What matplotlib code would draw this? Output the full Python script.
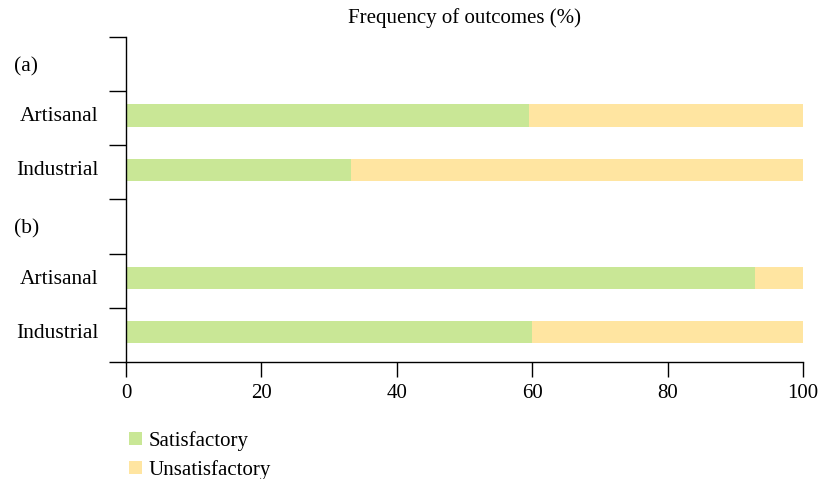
"""Stacked horizontal bars: frequency of satisfactory vs unsatisfactory outcomes."""

import matplotlib

matplotlib.use("Agg")
import matplotlib.pyplot as plt
import matplotlib.transforms as mtransforms
from matplotlib.patches import Patch

# Row labels top to bottom; group headers carry no bar.
rows = ["(a)", "Artisanal", "Industrial", "(b)", "Artisanal", "Industrial"]
satisfactory = [None, 59.6, 33.3, None, 92.9, 60.0]
unsatisfactory = [None, 40.4, 66.7, None, 7.1, 40.0]
xticks = [0, 20, 40, 60, 80, 100]

GREEN = "#c9e796"
YELLOW = "#ffe5a1"

plt.rcParams["font.family"] = ["Liberation Serif", "DejaVu Serif"]

fig = plt.figure(figsize=(8.21, 4.79), dpi=100)
ax = fig.add_axes([0.1535, 0.2443, 0.8245, 0.6785])

for i, (s, u) in enumerate(zip(satisfactory, unsatisfactory)):
    if s is None:
        continue
    ax.barh(i - 0.05, s, height=0.41, color=GREEN, lw=0)
    ax.barh(i - 0.05, u, left=s, height=0.41, color=YELLOW, lw=0)

ax.set_xlim(0, 100)
ax.set_ylim(len(rows) - 0.5, -0.5)

# Ticks sit on the row boundaries, labels in between.
ax.set_yticks([i - 0.5 for i in range(len(rows) + 1)])
ax.set_yticklabels([])
ax.set_yticks(range(len(rows)), minor=True)
ax.set_yticklabels(
    ["" if s is None else r for r, s in zip(rows, satisfactory)],
    minor=True,
    fontsize=15.5,
)
ax.tick_params(axis="y", which="major", length=12.5, width=1.0)
ax.tick_params(axis="y", which="minor", length=0, pad=20)
nudge = mtransforms.ScaledTranslation(0, 3 / 72, fig.dpi_scale_trans)
for lab in ax.get_yticklabels(minor=True):
    lab.set_transform(lab.get_transform() + nudge)

# Group headers are flush left.
for i, (r, s) in enumerate(zip(rows, satisfactory)):
    if s is None:
        ax.text(-0.1654, i + 0.05, r, transform=ax.get_yaxis_transform(),
                ha="left", va="center", fontsize=15.5)

ax.set_xticks(xticks)
ax.set_xticklabels([str(t) for t in xticks], fontsize=15)
ax.tick_params(axis="x", length=10.8, width=1.0, pad=5)

for side in ("top", "right"):
    ax.spines[side].set_visible(False)
for side in ("left", "bottom"):
    ax.spines[side].set_linewidth(1.0)

ax.set_title("Frequency of outcomes (%)", fontsize=15, pad=10)

handles = [
    Patch(facecolor=GREEN, label="Satisfactory"),
    Patch(facecolor=YELLOW, label="Unsatisfactory"),
]
fig.legend(
    handles=handles,
    loc="upper left",
    bbox_to_anchor=(0.147, 0.118),
    frameon=False,
    fontsize=15,
    handlelength=0.6,
    handleheight=0.6,
    handletextpad=0.35,
    labelspacing=0.45,
    borderaxespad=0,
)

fig.savefig("out.png", dpi=100)
